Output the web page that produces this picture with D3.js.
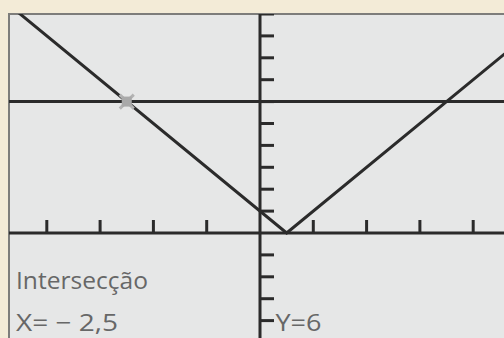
<!DOCTYPE html>
<html>
<head>
<meta charset="utf-8">
<script src="https://cdn.jsdelivr.net/npm/d3@7"></script>
<style>
  html, body { margin: 0; padding: 0; background: #f3ebd7; }
  svg { display: block; }
</style>
</head>
<body>
<svg id="chart" width="504" height="338"></svg>
<script>
// window of the calculator screen
const xWindow = [-4.7, 4.7];
const yWindow = [-10, 10];
const xTicks = [-4, -3, -2, -1, 1, 2, 3, 4];
const yTicks = [-4, -3, -2, -1, 1, 2, 3, 4, 5, 6, 7, 8, 9, 10];

// y = |2x - 1|
const curveX = [-5, 0.5, 5];
const curveY = [11, 0, 9];
// horizontal line y = 6
const levelY = 6;
// intersection point
const hitX = -2.5;
const hitY = 6;

const labels = ["Intersecção", "X= \u2212 2,5", "Y=6"];

const svg = d3.select("#chart");
const W = 504, H = 338;

const screenLeft = 9, screenTop = 14;

const x = d3.scaleLinear().domain(xWindow).range([9.5, 510.5]);
const y = d3.scaleLinear().domain(yWindow).range([452, 14]);

svg.append("defs").append("clipPath").attr("id", "scr")
  .append("rect").attr("x", screenLeft).attr("y", screenTop)
  .attr("width", W - screenLeft).attr("height", H - screenTop);

// screen
svg.append("rect")
  .attr("x", screenLeft).attr("y", screenTop)
  .attr("width", W - screenLeft).attr("height", H - screenTop)
  .attr("fill", "#e6e7e7");

// border
svg.append("path")
  .attr("d", `M${screenLeft},${H} V${screenTop} H${W}`)
  .attr("fill", "none")
  .attr("stroke", "#7d7d7b")
  .attr("stroke-width", 2);

const g = svg.append("g").attr("clip-path", "url(#scr)");

const ink = "#2b2b2b";

// axes
g.append("line")
  .attr("x1", screenLeft).attr("x2", W)
  .attr("y1", y(0)).attr("y2", y(0))
  .attr("stroke", ink).attr("stroke-width", 3);
g.append("line")
  .attr("x1", x(0)).attr("x2", x(0))
  .attr("y1", screenTop).attr("y2", H)
  .attr("stroke", ink).attr("stroke-width", 3);

// ticks
g.selectAll(".xt").data(xTicks).join("line")
  .attr("class", "xt")
  .attr("x1", d => x(d)).attr("x2", d => x(d))
  .attr("y1", y(0)).attr("y2", y(0) - 13)
  .attr("stroke", ink).attr("stroke-width", 3);
g.selectAll(".yt").data(yTicks).join("line")
  .attr("class", "yt")
  .attr("x1", x(0)).attr("x2", x(0) + 14)
  .attr("y1", d => y(d)).attr("y2", d => y(d))
  .attr("stroke", ink).attr("stroke-width", 3);

// horizontal line
g.append("line")
  .attr("x1", screenLeft).attr("x2", W)
  .attr("y1", y(levelY)).attr("y2", y(levelY))
  .attr("stroke", ink).attr("stroke-width", 3);

// the V graph
const line = d3.line().x(d => x(d[0])).y(d => y(d[1]));
g.append("path")
  .datum(d3.zip(curveX, curveY))
  .attr("d", line)
  .attr("fill", "none")
  .attr("stroke", ink)
  .attr("stroke-width", 3)
  .attr("stroke-linejoin", "miter");

// intersection cursor
const cx = x(hitX), cy = y(hitY);
const mk = g.append("g").attr("transform", `translate(${cx},${cy})`);
mk.append("path")
  .attr("d", "M-7,-7L7,7M-7,7L7,-7")
  .attr("stroke", "#b4b4b4").attr("stroke-width", 3);
mk.append("rect")
  .attr("x", -5).attr("y", -5).attr("width", 10).attr("height", 10)
  .attr("fill", "#a9a9a9");

// text
const txt = g.append("g")
  .attr("fill", "#676767")
  .attr("font-family", "'Open Sans', sans-serif")
  .attr("font-size", 24);
txt.append("text").attr("x", 16).attr("y", 288.5)
  .attr("textLength", 132).attr("lengthAdjust", "spacingAndGlyphs")
  .text(labels[0]);
txt.append("text").attr("x", 16).attr("y", 331)
  .attr("textLength", 102).attr("lengthAdjust", "spacingAndGlyphs")
  .text(labels[1]);
txt.append("text").attr("x", 275.5).attr("y", 331)
  .attr("textLength", 46).attr("lengthAdjust", "spacingAndGlyphs")
  .text(labels[2]);
</script>
</body>
</html>
